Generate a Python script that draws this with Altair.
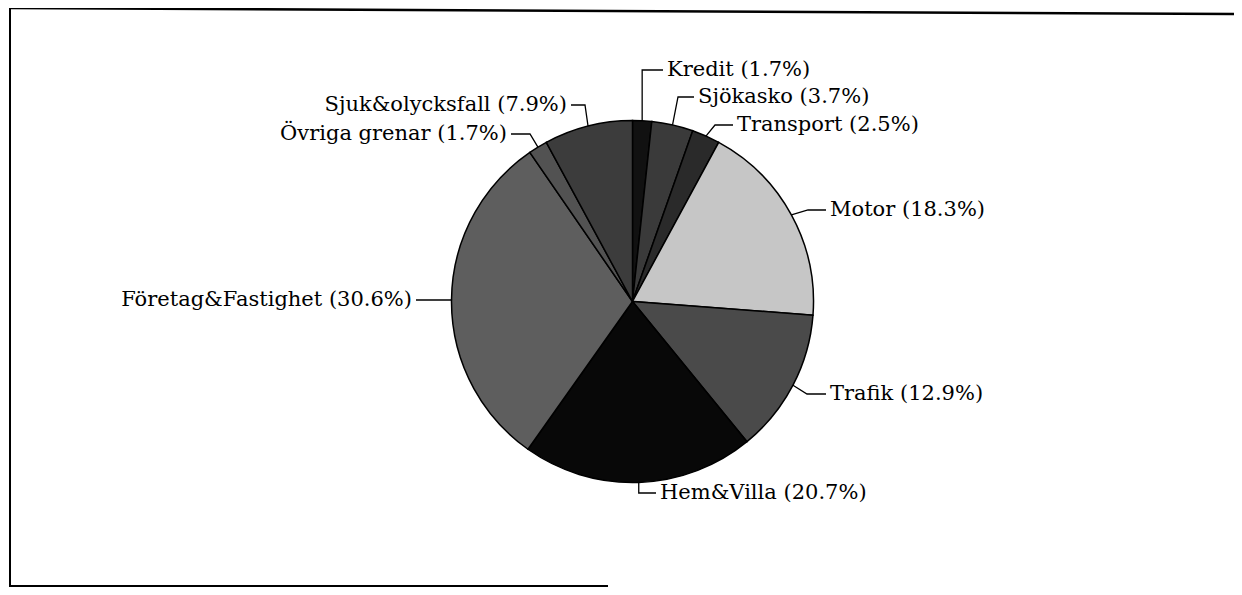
import altair as alt
import numpy as np
import pandas as pd

# ---- data ----
categories = ["Kredit", "Sjökasko", "Transport", "Motor", "Trafik",
              "Hem&Villa", "Företag&Fastighet", "Övriga grenar", "Sjuk&olycksfall"]
shares = [1.7, 3.7, 2.5, 18.3, 12.9, 20.7, 30.6, 1.7, 7.9]

# ---- styles / layout (chart coords = page coords - 8) ----
fills = ["#111111", "#3a3a3a", "#2a2a2a", "#c6c6c6", "#4a4a4a",
         "#080808", "#5e5e5e", "#525252", "#3c3c3c"]
CX, CY, R = 624.5, 293.5, 181
FONT = "DejaVu Serif"
FS = 21
# label anchor x, label y, elbow x ("edge" = at edge point), side
layout = {
    "Kredit":            (659, 62, "edge", "left"),
    "Sjökasko":          (690, 89, 670, "left"),
    "Transport":         (729, 117, 707, "left"),
    "Motor":             (822, 202, 800, "left"),
    "Trafik":            (822, 386, 799, "left"),
    "Hem&Villa":         (652, 485, "edge", "left"),
    "Företag&Fastighet": (404, 292, "edge", "right"),
    "Övriga grenar":     (499, 126, 522, "right"),
    "Sjuk&olycksfall":   (559, 97, 577, "right"),
}

vals = np.array(shares)
cum = np.cumsum(vals) - vals / 2
mid = cum / vals.sum() * 2 * np.pi

df = pd.DataFrame({"cat": categories, "share": shares,
                   "order": list(range(len(categories)))})
df["label"] = [f"{c} ({s:.1f}%)" for c, s in zip(categories, shares)]

lead_rows, lab_rows = [], []
for i, c in enumerate(categories):
    ex = CX + R * np.sin(mid[i])
    ey = CY - R * np.cos(mid[i])
    lx, ly, elx, side = layout[c]
    if elx == "edge":
        elx = ex
    gap = 4 if side == "left" else -4
    pts = [(ex, ey), (elx, ly), (lx - gap, ly)]
    for k, (px, py) in enumerate(pts):
        lead_rows.append({"cat": c, "k": k, "px": px, "py": py})
    lab_rows.append({"cat": c, "label": df["label"][i], "lx": lx, "ly": ly, "side": side})

lead = pd.DataFrame(lead_rows)
labs = pd.DataFrame(lab_rows)

base = alt.Chart(df)

pie = base.mark_arc(outerRadius=R, stroke="#000000", strokeWidth=1.5).encode(
    theta=alt.Theta("share:Q", stack=True),
    order=alt.Order("order:Q"),
    color=alt.Color("cat:N", scale=alt.Scale(domain=categories, range=fills), legend=None),
    x=alt.value(CX), y=alt.value(CY),
)

leaders = alt.Chart(lead).mark_line(color="#000000", strokeWidth=1.3).encode(
    x=alt.X("px:Q", scale=None), y=alt.Y("py:Q", scale=None),
    detail="cat:N", order="k:Q",
)

lab_left = alt.Chart(labs).transform_filter("datum.side == 'left'").mark_text(
    align="left", baseline="middle", font=FONT, fontSize=FS, color="#000000"
).encode(x=alt.X("lx:Q", scale=None), y=alt.Y("ly:Q", scale=None), text="label:N")

lab_right = alt.Chart(labs).transform_filter("datum.side == 'right'").mark_text(
    align="right", baseline="middle", font=FONT, fontSize=FS, color="#000000"
).encode(x=alt.X("lx:Q", scale=None), y=alt.Y("ly:Q", scale=None), text="label:N")

# frame (scanned box)
top = alt.Chart(df.head(1)).mark_rule(color="#000000", strokeWidth=2.5).encode(
    x=alt.value(2), y=alt.value(0), x2=alt.value(1226), y2=alt.value(6))
left = alt.Chart(df.head(1)).mark_rule(color="#000000", strokeWidth=2).encode(
    x=alt.value(2), y=alt.value(0), x2=alt.value(2), y2=alt.value(579))
bottom = alt.Chart(df.head(1)).mark_rule(color="#000000", strokeWidth=2).encode(
    x=alt.value(2), y=alt.value(578), x2=alt.value(600), y2=alt.value(578))

chart = alt.layer(pie, leaders, lab_left, lab_right, top, left, bottom).properties(
    width=1226, height=579, padding=0,
    autosize=alt.AutoSizeParams(type="none"),
).configure_view(stroke=None)

chart.save("out.html", embed_options={"renderer": "svg", "actions": False})
